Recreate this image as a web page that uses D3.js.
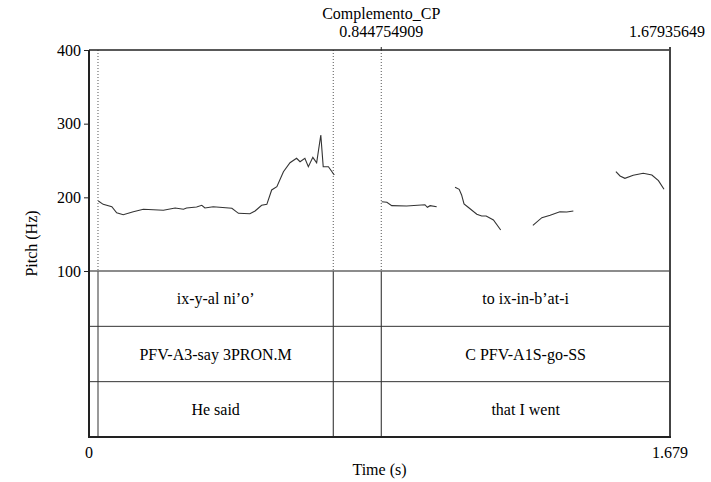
<!DOCTYPE html>
<html>
<head>
<meta charset="utf-8">
<script src="https://cdn.jsdelivr.net/npm/d3@7"></script>
<style>
  body { margin: 0; background: #fff; }
</style>
</head>
<body>
<div id="chart"></div>
<script>
// pitch contour pieces, [time (s), pitch (Hz)]
const seg1 = [[0.027,195],[0.041,190.5],[0.066,187.3],[0.080,179.1],[0.099,176.4],[0.128,180.5],[0.157,183.8],
  [0.215,182.4],[0.249,185.5],[0.273,183.8],[0.282,185.5],[0.311,186.9],[0.326,189.2],[0.335,185.5],[0.359,187.3],
  [0.413,185.1],[0.432,178.3],[0.465,177.8],[0.480,181.5],[0.499,189.2],[0.514,190.5],[0.528,210],[0.543,214.4],
  [0.562,234.8],[0.581,247],[0.600,253],[0.610,248.4],[0.624,253],[0.634,241.6],[0.647,254.3],[0.658,247],
  [0.670,284.6],[0.677,241.6],[0.692,241.6],[0.709,230.3]];
const seg2 = [[0.846,194.1],[0.861,193.3],[0.875,188.7],[0.918,188.2],[0.971,190],[0.978,186.5],[0.986,188.7],[1.005,187.3]];
const seg3 = [[1.058,213.6],[1.070,210.9],[1.077,203.2],[1.084,191],[1.096,186.5],[1.121,177],[1.135,174.7],
  [1.148,174.7],[1.169,169.2],[1.190,155.7]];
const seg4 = [[1.283,162],[1.309,172.4],[1.333,175.6],[1.361,180.5],[1.381,180],[1.400,181.4]];
const seg5 = [[1.523,234.8],[1.535,229],[1.549,225.8],[1.573,229.9],[1.602,232.6],[1.627,230.3],[1.646,222.6],[1.662,210.9]];
const pitchSegments = [seg1, seg2, seg3, seg4, seg5];

const pitchTicks = [100, 200, 300, 400];
const boundaries = [0.026, 0.706, 0.844754909];
const markedPoint = 0.844754909;
const markedLabel = 'Complemento_CP';
const totalDur = 1.67935649;

const tierWords = [
  {start: 0.026, end: 0.706, text: 'ix-y-al ni’o’'},
  {start: 0.844754909, end: totalDur, text: 'to ix-in-b’at-i'}
];
const tierGloss = [
  {start: 0.026, end: 0.706, text: 'PFV-A3-say 3PRON.M'},
  {start: 0.844754909, end: totalDur, text: 'C PFV-A1S-go-SS'}
];
const tierTrans = [
  {start: 0.026, end: 0.706, text: 'He said'},
  {start: 0.844754909, end: totalDur, text: 'that I went'}
];
const tiers = [tierWords, tierGloss, tierTrans];

const serif = "'Liberation Serif', 'Times New Roman', Times, 'DejaVu Serif', serif";
const w = 711, h = 482;
const padL = 89, padR = 670, padT = 50, pitchBottom = 271, padB = 437;
const rowH = (padB - pitchBottom) / tiers.length;

const x = d3.scaleLinear().domain([0, totalDur]).range([padL, padR]);
const y = d3.scaleLinear().domain([100, 400]).range([pitchBottom, padT]);

const svg = d3.select('#chart').append('svg')
  .attr('width', w).attr('height', h)
  .attr('font-family', serif).attr('font-size', 16);

// dotted boundary lines in the pitch area
svg.selectAll('line.dot')
  .data(boundaries)
  .enter().append('line')
  .attr('x1', d => x(d)).attr('x2', d => x(d))
  .attr('y1', padT).attr('y2', pitchBottom)
  .attr('stroke', '#555').attr('stroke-width', 1).attr('stroke-dasharray', '1,2');

// pitch curve
const line = d3.line().x(d => x(d[0])).y(d => y(d[1]));
svg.selectAll('path.pitch')
  .data(pitchSegments)
  .enter().append('path')
  .attr('d', line)
  .attr('fill', 'none').attr('stroke', '#333').attr('stroke-width', 1.1);

// tier boundaries
svg.selectAll('line.bnd')
  .data(boundaries)
  .enter().append('line')
  .attr('x1', d => x(d)).attr('x2', d => x(d))
  .attr('y1', pitchBottom).attr('y2', padB)
  .attr('stroke', (d, i) => i === 0 ? '#999' : '#222')
  .attr('stroke-width', (d, i) => i === 0 ? 2 : 1);

// horizontal tier lines
svg.selectAll('line.row')
  .data(d3.range(1, tiers.length))
  .enter().append('line')
  .attr('x1', padL).attr('x2', padR)
  .attr('y1', d => pitchBottom + d * rowH).attr('y2', d => pitchBottom + d * rowH)
  .attr('stroke', '#333').attr('stroke-width', 1);
svg.append('line')
  .attr('x1', padL).attr('x2', padR).attr('y1', pitchBottom).attr('y2', pitchBottom)
  .attr('stroke', '#666').attr('stroke-width', 1.5);

// tier texts
tiers.forEach((tier, k) => {
  svg.selectAll(null)
    .data(tier)
    .enter().append('text')
    .attr('x', d => (x(d.start) + x(d.end)) / 2)
    .attr('y', pitchBottom + (k + 0.5) * rowH + 5.5)
    .attr('text-anchor', 'middle')
    .text(d => d.text);
});

// frame
svg.append('line').attr('x1', padL).attr('x2', padR).attr('y1', padT).attr('y2', padT)
  .attr('stroke', '#222').attr('stroke-width', 1.5);
svg.append('line').attr('x1', padR).attr('x2', padR).attr('y1', padT - 3).attr('y2', padB)
  .attr('stroke', '#444').attr('stroke-width', 2);
svg.append('line').attr('x1', padL).attr('x2', padL).attr('y1', padT).attr('y2', padB + 1)
  .attr('stroke', '#222').attr('stroke-width', 2);
svg.append('line').attr('x1', padL).attr('x2', padR + 1).attr('y1', padB).attr('y2', padB)
  .attr('stroke', '#222').attr('stroke-width', 2);
svg.append('line').attr('x1', x(markedPoint)).attr('x2', x(markedPoint)).attr('y1', padT - 3).attr('y2', padT)
  .attr('stroke', '#222');

// left axis
const yAxis = d3.axisLeft(y).tickValues(pitchTicks).tickSize(5).tickPadding(3).tickFormat(d3.format('d'));
const gy = svg.append('g').attr('transform', `translate(${padL},0)`).call(yAxis)
  .attr('font-family', serif).attr('font-size', 16);
gy.select('.domain').remove();
gy.selectAll('.tick line').attr('stroke', '#222');
gy.selectAll('.tick text').attr('fill', '#000').attr('dy', '0.33em');

// bottom labels
svg.append('text').attr('x', padL).attr('y', 458).attr('text-anchor', 'middle').text('0');
svg.append('text').attr('x', padR).attr('y', 458).attr('text-anchor', 'middle').text(d3.format('.3f')(totalDur));
svg.append('text').attr('x', (padL + padR) / 2).attr('y', 475).attr('text-anchor', 'middle').text('Time (s)');

// top labels
svg.append('text').attr('x', x(markedPoint)).attr('y', 19).attr('text-anchor', 'middle').text(markedLabel);
svg.append('text').attr('x', x(markedPoint)).attr('y', 37).attr('text-anchor', 'middle').text(markedPoint.toFixed(9));
svg.append('text').attr('x', padR - 3).attr('y', 37).attr('text-anchor', 'middle').text(totalDur.toFixed(8));

// y label, centred on the whole drawing height
svg.append('text')
  .attr('transform', `translate(37,${(padT + padB) / 2}) rotate(-90)`)
  .attr('text-anchor', 'middle')
  .text('Pitch (Hz)');
</script>
</body>
</html>
